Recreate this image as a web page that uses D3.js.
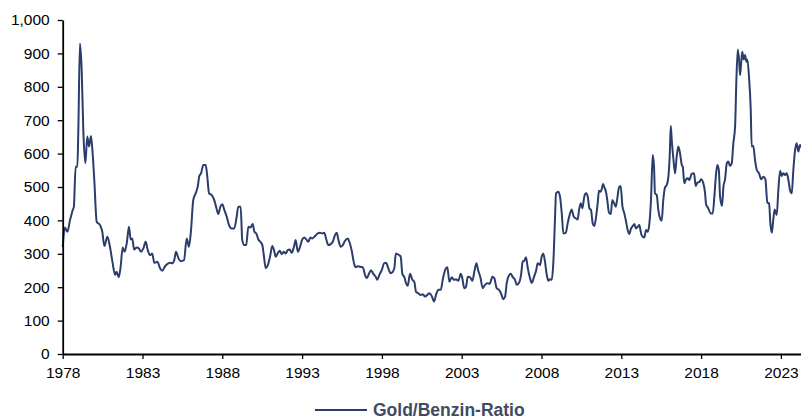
<!DOCTYPE html>
<html>
<head>
<meta charset="utf-8">
<script src="https://cdn.jsdelivr.net/npm/d3@7"></script>
<style>
  body { margin: 0; background: #fff; }
  svg { display: block; font-family: "Liberation Sans", Arial, sans-serif; }
</style>
</head>
<body>
<div id="chart"></div>
<script>
// Gold/petrol ratio (decimal years)
const years = [
  1978.00, 1978.14, 1978.29, 1978.46, 1978.63, 1978.70, 1978.81, 1978.92, 1978.98, 1979.08,
  1979.19, 1979.29, 1979.42, 1979.54, 1979.65, 1979.77, 1979.86, 1979.98, 1980.13, 1980.34,
  1980.48, 1980.61, 1980.80, 1980.96, 1981.13, 1981.28, 1981.38, 1981.51, 1981.63, 1981.76,
  1981.88, 1982.01, 1982.15, 1982.26, 1982.36, 1982.47, 1982.64, 1982.78, 1982.91, 1983.05,
  1983.20, 1983.33, 1983.47, 1983.61, 1983.74, 1983.93, 1984.10, 1984.24, 1984.39, 1984.55,
  1984.72, 1984.87, 1984.99, 1985.10, 1985.24, 1985.39, 1985.60, 1985.77, 1985.91, 1986.04,
  1986.18, 1986.33, 1986.46, 1986.56, 1986.67, 1986.81, 1986.96, 1987.06, 1987.17, 1987.34,
  1987.48, 1987.61, 1987.75, 1987.88, 1988.00, 1988.13, 1988.28, 1988.42, 1988.59, 1988.75,
  1988.90, 1989.00, 1989.15, 1989.25, 1989.38, 1989.50, 1989.63, 1989.76, 1989.91, 1990.01,
  1990.13, 1990.26, 1990.38, 1990.51, 1990.60, 1990.72, 1990.85, 1990.99, 1991.13, 1991.24,
  1991.35, 1991.47, 1991.60, 1991.72, 1991.85, 1991.97, 1992.10, 1992.22, 1992.35, 1992.49,
  1992.60, 1992.73, 1992.87, 1993.01, 1993.14, 1993.26, 1993.39, 1993.52, 1993.64, 1993.77,
  1993.98, 1994.12, 1994.27, 1994.39, 1994.50, 1994.64, 1994.79, 1994.92, 1995.06, 1995.17,
  1995.27, 1995.42, 1995.55, 1995.69, 1995.86, 1995.96, 1996.11, 1996.25, 1996.36, 1996.49,
  1996.63, 1996.80, 1996.94, 1997.05, 1997.19, 1997.32, 1997.46, 1997.61, 1997.71, 1997.84,
  1997.99, 1998.15, 1998.26, 1998.40, 1998.55, 1998.68, 1998.78, 1998.87, 1998.97, 1999.09,
  1999.18, 1999.28, 1999.41, 1999.51, 1999.62, 1999.76, 1999.91, 2000.03, 2000.14, 2000.28,
  2000.43, 2000.56, 2000.70, 2000.85, 2000.97, 2001.12, 2001.27, 2001.39, 2001.54, 2001.69,
  2001.81, 2001.96, 2002.10, 2002.23, 2002.38, 2002.52, 2002.64, 2002.79, 2002.94, 2003.04,
  2003.16, 2003.27, 2003.38, 2003.52, 2003.67, 2003.79, 2003.92, 2004.04, 2004.17, 2004.32,
  2004.46, 2004.61, 2004.76, 2004.92, 2005.04, 2005.19, 2005.34, 2005.46, 2005.61, 2005.72,
  2005.82, 2005.92, 2006.07, 2006.20, 2006.34, 2006.45, 2006.59, 2006.72, 2006.82, 2006.92,
  2007.03, 2007.14, 2007.28, 2007.39, 2007.53, 2007.66, 2007.76, 2007.91, 2008.01, 2008.11,
  2008.22, 2008.33, 2008.43, 2008.53, 2008.64, 2008.74, 2008.85, 2008.91, 2009.05, 2009.16,
  2009.27, 2009.37, 2009.52, 2009.64, 2009.79, 2009.89, 2010.02, 2010.16, 2010.27, 2010.35,
  2010.46, 2010.56, 2010.68, 2010.79, 2010.90, 2011.00, 2011.10, 2011.21, 2011.31, 2011.42,
  2011.52, 2011.60, 2011.71, 2011.77, 2011.86, 2011.94, 2012.04, 2012.12, 2012.23, 2012.34,
  2012.44, 2012.55, 2012.65, 2012.75, 2012.86, 2012.96, 2013.07, 2013.19, 2013.30, 2013.40,
  2013.50, 2013.61, 2013.72, 2013.82, 2013.92, 2014.03, 2014.13, 2014.24, 2014.34, 2014.44,
  2014.55, 2014.66, 2014.76, 2014.86, 2014.97, 2015.05, 2015.11, 2015.22, 2015.32, 2015.43,
  2015.53, 2015.63, 2015.74, 2015.85, 2015.95, 2016.04, 2016.10, 2016.16, 2016.26, 2016.37,
  2016.47, 2016.57, 2016.68, 2016.79, 2016.85, 2016.95, 2017.06, 2017.16, 2017.26, 2017.41,
  2017.56, 2017.66, 2017.77, 2017.90, 2018.00, 2018.14, 2018.25, 2018.31, 2018.45, 2018.60,
  2018.73, 2018.83, 2018.94, 2019.02, 2019.11, 2019.19, 2019.31, 2019.40, 2019.50, 2019.61,
  2019.71, 2019.81, 2019.92, 2020.02, 2020.13, 2020.21, 2020.30, 2020.38, 2020.44, 2020.50,
  2020.58, 2020.67, 2020.75, 2020.84, 2020.90, 2021.00, 2021.11, 2021.17, 2021.27, 2021.38,
  2021.49, 2021.63, 2021.76, 2021.90, 2022.03, 2022.15, 2022.26, 2022.34, 2022.43, 2022.53,
  2022.61, 2022.74, 2022.84, 2022.95, 2023.05, 2023.15, 2023.26, 2023.37, 2023.47, 2023.57,
  2023.68, 2023.78, 2023.89, 2023.99, 2024.09, 2024.20, 2024.30
];

const ratio = [
  321, 379, 366, 401, 431, 441, 561, 561, 671, 930,
  850, 671, 571, 651, 621, 653, 611, 521, 396, 386,
  366, 323, 351, 321, 272, 237, 246, 230, 261, 319,
  306, 331, 381, 343, 346, 313, 319, 316, 306, 316,
  336, 311, 296, 301, 273, 276, 257, 249, 261, 269,
  273, 272, 281, 306, 288, 278, 281, 346, 321, 371,
  461, 481, 501, 533, 541, 566, 566, 531, 481, 476,
  463, 441, 419, 441, 448, 431, 411, 386, 376, 376,
  411, 441, 441, 341, 326, 326, 381, 379, 389, 366,
  361, 343, 336, 326, 296, 257, 266, 291, 323, 311,
  291, 301, 309, 299, 306, 301, 311, 313, 303, 321,
  341, 306, 321, 343, 349, 343, 336, 349, 346, 351,
  361, 363, 361, 363, 346, 326, 329, 336, 356, 363,
  343, 321, 326, 339, 346, 336, 309, 272, 260, 263,
  261, 260, 237, 227, 240, 251, 240, 231, 222, 237,
  251, 272, 273, 257, 242, 246, 257, 301, 299, 296,
  291, 240, 230, 212, 204, 240, 222, 216, 186, 182,
  177, 179, 172, 177, 182, 174, 157, 177, 192, 192,
  222, 251, 260, 216, 230, 222, 224, 219, 240, 227,
  197, 201, 231, 230, 219, 246, 272, 249, 230, 197,
  207, 212, 210, 231, 227, 197, 192, 182, 164, 172,
  212, 231, 240, 230, 222, 207, 213, 237, 276, 279,
  290, 257, 227, 213, 231, 249, 272, 266, 291, 301,
  276, 237, 219, 224, 222, 272, 411, 481, 486, 471,
  421, 361, 363, 391, 421, 433, 411, 406, 403, 431,
  451, 436, 471, 481, 471, 436, 431, 391, 383, 411,
  451, 489, 486, 493, 509, 499, 486, 461, 423, 419,
  461, 451, 441, 466, 499, 503, 443, 421, 396, 371,
  359, 376, 383, 389, 376, 381, 386, 361, 351, 349,
  371, 366, 391, 461, 596, 561, 481, 476, 431, 406,
  399, 461, 499, 506, 531, 601, 683, 641, 586, 541,
  591, 621, 601, 566, 561, 511, 523, 526, 521, 539,
  541, 503, 513, 515, 523, 511, 481, 449, 436, 421,
  421, 471, 541, 566, 551, 471, 443, 501, 523, 571,
  576, 563, 571, 631, 681, 820, 912, 880, 835, 865,
  905, 882, 895, 875, 882, 830, 731, 621, 623, 581,
  551, 541, 523, 531, 523, 453, 451, 391, 363, 406,
  433, 416, 491, 549, 533, 541, 536, 541, 521, 491,
  481, 551, 611, 631, 606, 626, 618
];

const xTicks = [1978, 1983, 1988, 1993, 1998, 2003, 2008, 2013, 2018, 2023];
const yTicks = [0, 100, 200, 300, 400, 500, 600, 700, 800, 900, 1000];
const seriesName = "Gold/Benzin-Ratio";

const width = 801;
const height = 420;
const marginTop = 20;
const marginBottom = 66;
const marginLeft = 62.7;
const lineColor = "#2b3d6b";

const svg = d3.select("#chart")
  .append("svg")
  .attr("width", width)
  .attr("height", height);

const x = d3.scaleLinear()
  .domain([1978, 2024.3])
  .range([marginLeft, marginLeft + 46.3 * 15.96]);

const y = d3.scaleLinear()
  .domain([0, 1000])
  .range([height - marginBottom, marginTop]);

// line
const data = years.map((d, i) => [d, ratio[i]]);
svg.append("path")
  .datum(data)
  .attr("fill", "none")
  .attr("stroke", lineColor)
  .attr("stroke-width", 2)
  .attr("stroke-linejoin", "round")
  .attr("d", d3.line()
    .x(d => x(d[0]))
    .y(d => y(d[1]))
    .curve(d3.curveMonotoneX));

// x-axis
const gx = svg.append("g")
  .attr("transform", `translate(0,${height - marginBottom})`)
  .call(d3.axisBottom(x)
    .tickValues(xTicks)
    .tickFormat(d3.format("d"))
    .tickSizeInner(5)
    .tickSizeOuter(0)
    .tickPadding(8));

// y-axis
const gy = svg.append("g")
  .attr("transform", `translate(${marginLeft},0)`)
  .call(d3.axisLeft(y)
    .tickValues(yTicks)
    .tickFormat(d3.format(","))
    .tickSizeInner(5)
    .tickSizeOuter(0)
    .tickPadding(8));

[gx, gy].forEach(g => {
  g.selectAll("text")
    .attr("fill", "#000")
    .style("font-size", "15.5px")
    .style("font-family", "'Liberation Sans', Arial, sans-serif");
  g.selectAll("line").attr("stroke", "#000").attr("stroke-width", 1.3);
  g.select(".domain").attr("stroke", "#000").attr("stroke-width", 1.8);
});

// legend
const legend = svg.append("g").attr("transform", "translate(315,410)");
legend.append("line")
  .attr("x1", 0).attr("x2", 52)
  .attr("stroke", lineColor)
  .attr("stroke-width", 2);
legend.append("text")
  .attr("x", 58)
  .attr("y", 6)
  .attr("fill", "#404b63")
  .style("font-size", "17.5px")
  .style("font-weight", "bold")
  .text(seriesName);
</script>
</body>
</html>
